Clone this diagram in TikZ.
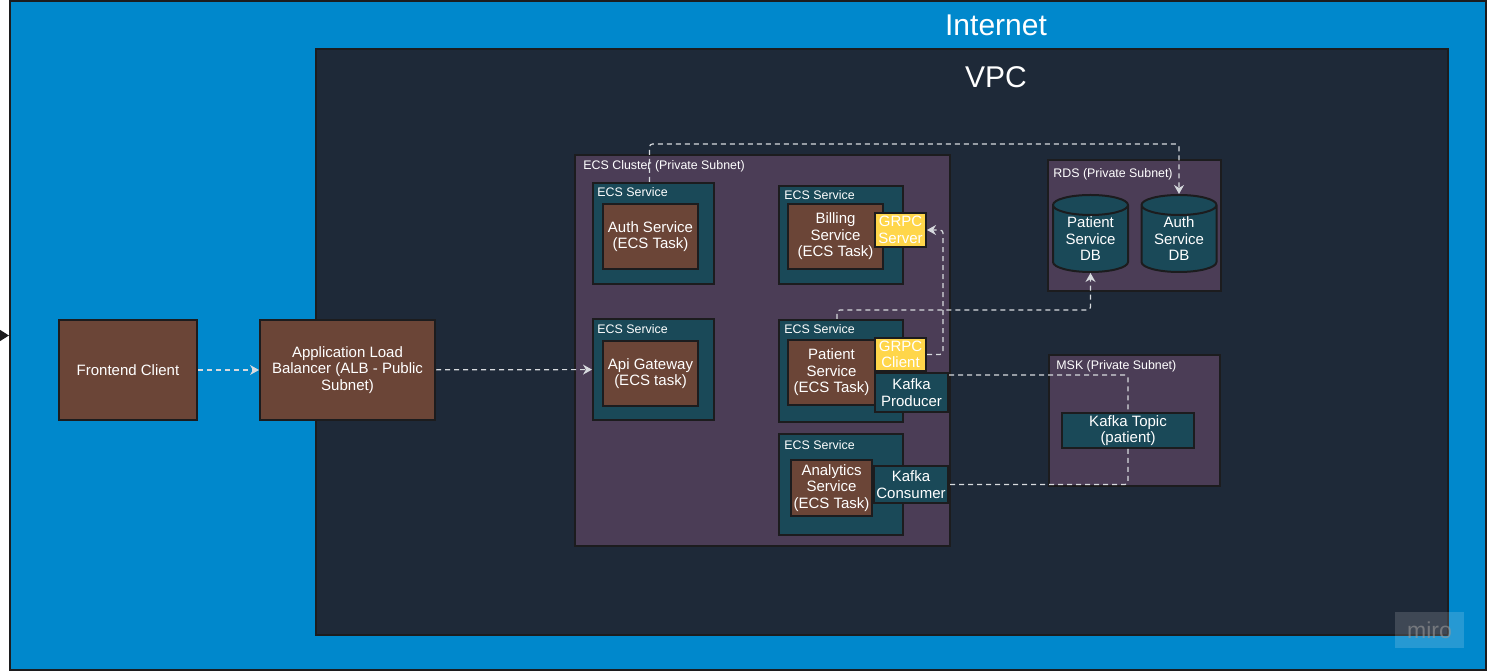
\documentclass[tikz,border=0pt]{standalone}
\usepackage{fontspec}
\setmainfont{Liberation Sans}
\usetikzlibrary{shapes.geometric,arrows.meta}

\definecolor{netblue}{RGB}{0,136,204}
\definecolor{vpcdark}{RGB}{30,41,56}
\definecolor{subnet}{RGB}{75,61,86}
\definecolor{svcteal}{RGB}{26,73,88}
\definecolor{taskbrown}{RGB}{107,69,55}
\definecolor{grpcyellow}{RGB}{255,214,74}
\definecolor{edge}{RGB}{28,28,30}
\definecolor{linkgray}{RGB}{215,218,222}

\begin{document}
\begin{tikzpicture}[x=0.5pt, y=-0.5pt,
    zone/.style={draw=edge, line width=1pt, inner sep=0pt},
    task/.style={zone, fill=taskbrown, text=white, align=center,
        font=\fontsize{7.5}{8.25}\selectfont},
    svc/.style={zone, fill=svcteal},
    grpc/.style={task, fill=grpcyellow},
    kafka/.style={task, fill=svcteal},
    db/.style={task, fill=svcteal, cylinder, shape border rotate=90,
        aspect=0.4, minimum width=37.5pt, minimum height=38.5pt},
    tag/.style={anchor=west, inner sep=0pt, text=white,
        font=\fontsize{6.2}{7}\selectfont},
    title/.style={text=white, inner sep=0pt, font=\fontsize{15}{18}\selectfont},
    link/.style={draw=linkgray, line width=0.6pt, dash pattern=on 2.5pt off 2pt,
        rounded corners=1.5pt},
    flow/.style={link, -{Stealth[length=4.5pt, width=5pt]}}]

    \fill[white] (0,0) rectangle (1487,672);
    \useasboundingbox (0,0) rectangle (1487,672);

    % outer areas
    \node[zone, fill=netblue, minimum width=738pt, minimum height=334.5pt] (inet) at (748, 335.5) {};
    \node[zone, fill=vpcdark, minimum width=566pt, minimum height=293pt] (vpc) at (882, 342) {};
    \node[title] (tinet) at (996, 25) {Internet};
    \node[title] (tvpc) at (996, 77) {VPC};

    \node[task, minimum width=69pt, minimum height=50pt] (fe) at (128, 370) {Frontend Client};
    \node[task, minimum width=87.5pt, minimum height=50pt] (alb) at (347.5, 370) {Application Load\\Balancer (ALB - Public\\Subnet)};

    % ECS cluster
    \node[zone, fill=subnet, minimum width=187.5pt, minimum height=195.5pt] (ecs) at (762.5, 350.5) {};
    \node[tag] (tecs) at (583, 166) {ECS Cluster (Private Subnet)};

    \node[svc, minimum width=60.5pt, minimum height=50.5pt] (svcauth) at (653.5, 233.5) {};
    \node[tag] (tauth) at (597, 192) {ECS Service};
    \node[task, minimum width=47.5pt, minimum height=32.5pt] (auth) at (650.5, 236.5) {Auth Service\\(ECS Task)};

    \node[svc, minimum width=62pt, minimum height=49pt] (svcbill) at (841, 235) {};
    \node[tag] (tbill) at (784, 195) {ECS Service};
    \node[task, minimum width=47.5pt, minimum height=32.5pt] (bill) at (835.5, 236.5) {Billing\\Service\\(ECS Task)};
    \node[grpc, minimum width=25.5pt, minimum height=17pt] (grpcs) at (900.5, 230) {GRPC\\Server};

    \node[svc, minimum width=60.5pt, minimum height=50.5pt] (svcapi) at (653.5, 369.5) {};
    \node[tag] (tapi) at (597, 329) {ECS Service};
    \node[task, minimum width=47.5pt, minimum height=32.5pt] (api) at (650.5, 373.5) {Api Gateway\\(ECS task)};

    \node[svc, minimum width=62pt, minimum height=51pt] (svcpat) at (841, 371) {};
    \node[tag] (tpat) at (784, 329) {ECS Service};
    \node[task, minimum width=43.5pt, minimum height=32.5pt] (pat) at (831.5, 372.5) {Patient\\Service\\(ECS Task)};
    \node[grpc, minimum width=25.5pt, minimum height=16.5pt] (grpcc) at (900.5, 354.5) {GRPC\\Client};
    \node[kafka, minimum width=36.5pt, minimum height=19.5pt] (kprod) at (911.5, 392.5) {Kafka\\Producer};

    \node[svc, minimum width=62pt, minimum height=50.5pt] (svcana) at (841, 484.5) {};
    \node[tag] (tana) at (784, 445) {ECS Service};
    \node[task, minimum width=40.5pt, minimum height=28pt] (ana) at (831.5, 488) {Analytics\\Service\\(ECS Task)};
    \node[kafka, minimum width=37pt, minimum height=18.5pt] (kcons) at (911, 484.5) {Kafka\\Consumer};

    % RDS
    \node[zone, fill=subnet, minimum width=86.5pt, minimum height=65.5pt] (rds) at (1134.5, 225.5) {};
    \node[tag] (trds) at (1053, 174) {RDS (Private Subnet)};
    \node[db] (patdb) at (1090.5, 239) {Patient\\Service\\DB};
    \node[db] (authdb) at (1179, 239) {Auth\\Service\\DB};

    % MSK
    \node[zone, fill=subnet, minimum width=85.5pt, minimum height=65.5pt] (msk) at (1134.5, 420.5) {};
    \node[tag] (tmsk) at (1056, 366) {MSK (Private Subnet)};
    \node[kafka, minimum width=66pt, minimum height=17.5pt] (ktopic) at (1128, 430.5) {Kafka Topic\\(patient)};

    \node[fill=white, fill opacity=0.15, text=gray!80, text opacity=0.6, minimum width=34.5pt,
        minimum height=18pt, inner sep=0pt, font=\fontsize{11.5}{12}\selectfont] (wm) at (1429.5, 630) {miro};

    \coordinate (src) at (0, 335.5);

    \draw[-{Triangle[length=5pt, width=6pt]}, edge, line width=1pt] (src) -- (inet.west);
    \draw[flow] (fe) -- (alb);
    \draw[flow] (alb) -- (svcapi);
    \draw[flow] ([xshift=-2pt]svcauth.north) -- ++(0,-38) -| (authdb.north);
    \draw[flow] (grpcc.east) -- ++(16,0) |- (grpcs.east);
    \draw[flow] ([xshift=-2pt]svcpat.north) -- ++(0,-9) -| (patdb.south);
    \draw[link] ([yshift=-1.5pt]kprod.north east) -| (ktopic.north);
    \draw[link] (ktopic.south) |- (kcons.east);

  \end{tikzpicture}
\end{document}
